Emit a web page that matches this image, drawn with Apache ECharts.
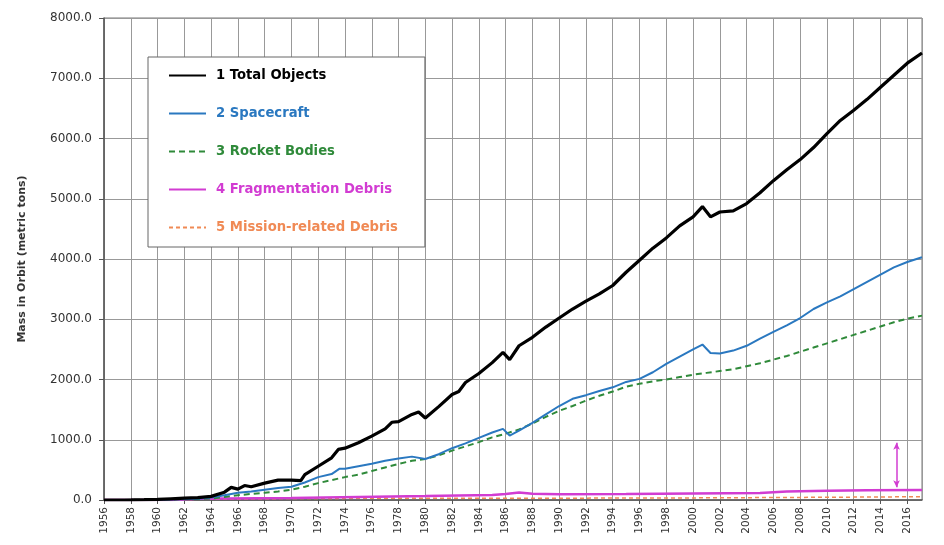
<!DOCTYPE html>
<html>
<head>
<meta charset="utf-8">
<script src="https://cdn.jsdelivr.net/npm/echarts@6/dist/echarts.min.js"></script>
<style>
  html, body { margin: 0; padding: 0; background: #fff; }
  #chart { width: 944px; height: 545px; }
</style>
</head>
<body>
<div id="chart"></div>
<script>
// Mass in orbit by object type (metric tons), by year
const totalYears = [1956, 1957, 1958, 1959, 1960, 1961, 1962, 1963, 1964, 1965, 1965.5, 1966, 1966.5, 1967, 1968, 1969, 1970, 1970.7, 1971, 1972, 1973, 1973.5, 1974, 1975, 1976, 1977, 1977.5, 1978, 1979, 1979.5, 1980, 1981, 1982, 1982.5, 1983, 1984, 1985, 1985.8, 1986.3, 1987, 1988, 1989, 1990, 1991, 1992, 1993, 1994, 1995, 1996, 1997, 1998, 1999, 2000, 2000.7, 2001.3, 2002, 2003, 2004, 2005, 2006, 2007, 2008, 2009, 2010, 2011, 2012, 2013, 2014, 2015, 2016, 2017.1];
const totalMass = [0, 0, 2, 5, 10, 20, 30, 40, 60, 130, 210, 180, 240, 220, 280, 330, 330, 320, 420, 560, 700, 840, 860, 950, 1060, 1180, 1290, 1300, 1420, 1460, 1360, 1550, 1750, 1800, 1950, 2100, 2280, 2450, 2330, 2560, 2700, 2870, 3020, 3170, 3300, 3420, 3560, 3780, 3980, 4180, 4350, 4550, 4700, 4870, 4700, 4780, 4800, 4920, 5100, 5300, 5480, 5650, 5850, 6080, 6300, 6470, 6650, 6850, 7050, 7250, 7420];

const spacecraftYears = [1956, 1960, 1963, 1964, 1965, 1966, 1967, 1968, 1969, 1970, 1971, 1972, 1973, 1973.6, 1974, 1975, 1976, 1977, 1978, 1979, 1980, 1981, 1982, 1983, 1984, 1985, 1985.8, 1986.3, 1987, 1988, 1989, 1990, 1991, 1992, 1993, 1994, 1995, 1996, 1997, 1998, 1999, 2000, 2000.7, 2001.3, 2002, 2003, 2004, 2005, 2006, 2007, 2008, 2009, 2010, 2011, 2012, 2013, 2014, 2015, 2016, 2017.1];
const spacecraftMass = [0, 5, 20, 40, 80, 120, 140, 170, 200, 220, 290, 380, 430, 520, 520, 560, 600, 650, 690, 720, 680, 760, 860, 940, 1030, 1120, 1180, 1070, 1150, 1280, 1420, 1560, 1680, 1740, 1810, 1870, 1960, 2010, 2120, 2260, 2380, 2500, 2580, 2440, 2430, 2480, 2560, 2680, 2790, 2900, 3020, 3170, 3280, 3380, 3500, 3620, 3740, 3860, 3950, 4030];

const rocketYears = [1956, 1960, 1963, 1964, 1965, 1966, 1967, 1968, 1969, 1970, 1971, 1972, 1973, 1974, 1975, 1976, 1977, 1978, 1979, 1980, 1981, 1982, 1983, 1984, 1985, 1986, 1987, 1988, 1989, 1990, 1991, 1992, 1993, 1994, 1995, 1996, 1997, 1998, 1999, 2000, 2001, 2002, 2003, 2004, 2005, 2006, 2007, 2008, 2009, 2010, 2011, 2012, 2013, 2014, 2015, 2016, 2017.1];
const rocketMass = [0, 5, 15, 25, 50, 80, 100, 120, 140, 170, 220, 280, 330, 380, 420, 480, 540, 600, 650, 680, 740, 820, 890, 960, 1040, 1100, 1170, 1270, 1380, 1480, 1560, 1650, 1730, 1800, 1880, 1930, 1970, 2000, 2040, 2080, 2110, 2140, 2170, 2220, 2270, 2330, 2390, 2460, 2530, 2600, 2670, 2740, 2810, 2880, 2950, 3010, 3060];

const fragYears = [1956, 1961, 1962, 1963, 1965, 1970, 1975, 1980, 1985, 1986, 1987, 1988, 1990, 1995, 2000, 2005, 2007, 2010, 2013, 2017.1];
const fragMass = [0, 2, 10, 20, 25, 35, 50, 65, 85, 100, 125, 105, 95, 100, 108, 118, 140, 155, 160, 165];

const missionYears = [1956, 1960, 1965, 1970, 1980, 1990, 2000, 2010, 2017.1];
const missionMass = [0, 5, 15, 25, 30, 30, 35, 45, 55];

// Double-headed marker beside the fragmentation-debris curve
const fragMarker = { year: 2015.2, from: 950, to: 210 };

const seriesNames = ['1 Total Objects', '2 Spacecraft', '3 Rocket Bodies', '4 Fragmentation Debris', '5 Mission-related Debris'];
const seriesColors = ['#000000', '#2a78c0', '#2f8a3a', '#d23cd2', '#f08a55'];

const pairs = (xs, ys) => xs.map((x, i) => [x, ys[i]]);

const chart = echarts.init(document.getElementById('chart'), null, { renderer: 'canvas' });

const font = 'DejaVu Sans';

chart.setOption({
  animation: false,
  backgroundColor: '#ffffff',
  grid: {
    left: 104, right: 22, top: 18, bottom: 45,
    show: true, borderColor: '#777', borderWidth: 1, backgroundColor: 'transparent'
  },
  legend: {
    orient: 'vertical',
    left: 148, top: 57,
    padding: [12, 27, 13, 20],
    itemWidth: 37, itemHeight: 14, itemGap: 25,
    backgroundColor: '#ffffff',
    borderColor: '#666', borderWidth: 1,
    itemStyle: { opacity: 0 },
    data: seriesNames.map((n, i) => ({
      name: n,
      textStyle: { color: seriesColors[i], fontFamily: font, fontSize: 13.2, fontWeight: 'bold', padding: [0, 0, 0, 5] }
    }))
  },
  xAxis: {
    type: 'value',
    min: 1956, max: 2017.1, interval: 2,
    axisLine: { show: true, lineStyle: { color: '#555', width: 1.5 } },
    axisTick: { show: true, length: 4, lineStyle: { color: '#555' } },
    axisLabel: {
      rotate: 90, color: '#333', fontFamily: font, fontSize: 10.5, margin: 7,
      showMaxLabel: false,
      formatter: v => String(Math.round(v))
    },
    splitLine: { show: true, lineStyle: { color: '#999', width: 1 } }
  },
  yAxis: {
    type: 'value',
    min: 0, max: 8000, interval: 1000,
    name: 'Mass in Orbit (metric tons)',
    nameLocation: 'middle', nameGap: 76, nameRotate: 90,
    nameTextStyle: { color: '#333', fontFamily: font, fontSize: 11, fontWeight: 'bold' },
    axisLine: { show: true, lineStyle: { color: '#555', width: 1.5 } },
    axisTick: { show: true, length: 5, lineStyle: { color: '#555' } },
    axisLabel: {
      color: '#333', fontFamily: font, fontSize: 12, margin: 12,
      formatter: v => v.toFixed(1)
    },
    splitLine: { show: true, lineStyle: { color: '#999', width: 1 } }
  },
  series: [
    {
      name: seriesNames[0], type: 'line', symbol: 'none', z: 6,
      data: pairs(totalYears, totalMass),
      lineStyle: { color: seriesColors[0], width: 3.2 },
      itemStyle: { color: seriesColors[0] }
    },
    {
      name: seriesNames[1], type: 'line', symbol: 'none', z: 5,
      data: pairs(spacecraftYears, spacecraftMass),
      lineStyle: { color: seriesColors[1], width: 2 },
      itemStyle: { color: seriesColors[1] }
    },
    {
      name: seriesNames[2], type: 'line', symbol: 'none', z: 4,
      data: pairs(rocketYears, rocketMass),
      lineStyle: { color: seriesColors[2], width: 2, type: [6, 4] },
      itemStyle: { color: seriesColors[2] }
    },
    {
      name: seriesNames[3], type: 'line', symbol: 'none', z: 3,
      data: pairs(fragYears, fragMass),
      lineStyle: { color: seriesColors[3], width: 2.5 },
      itemStyle: { color: seriesColors[3] },
      markLine: {
        silent: true,
        symbol: ['arrow', 'arrow'], symbolSize: [5, 7],
        label: { show: false },
        lineStyle: { color: seriesColors[3], width: 1.5, type: 'solid' },
        data: [[
          { coord: [fragMarker.year, fragMarker.from] },
          { coord: [fragMarker.year, fragMarker.to] }
        ]]
      }
    },
    {
      name: seriesNames[4], type: 'line', symbol: 'none', z: 2,
      data: pairs(missionYears, missionMass),
      lineStyle: { color: seriesColors[4], width: 1.5, type: [4, 3] },
      itemStyle: { color: seriesColors[4] }
    }
  ]
});
</script>
</body>
</html>
